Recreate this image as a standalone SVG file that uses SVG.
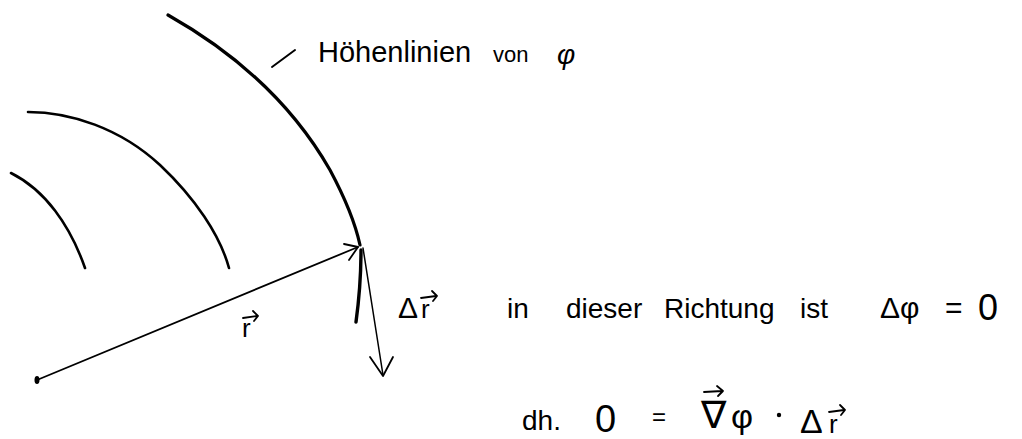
<svg xmlns="http://www.w3.org/2000/svg" width="1022" height="439" viewBox="0 0 1022 439">
<style>
.ln{fill:none;stroke:#000;stroke-linecap:round;stroke-linejoin:round}
.t{font-family:"Liberation Sans","DejaVu Sans",sans-serif;fill:#000}
</style>
<rect width="1022" height="439" fill="#fff"/>
<g id="contours">
<path id="contour-outer" class="ln" stroke-width="3.2" d="M168,15 C230,50 290,100 330,170 C345,198 355,222 360,245"/>
<path id="contour-outer-lower" class="ln" stroke-width="3.4" d="M361,250 C361,275 359,300 356,322"/>
<path id="contour-mid" class="ln" stroke-width="2.6" d="M28,112 C70,112 120,128 160,165 C195,198 220,235 229,268"/>
<path id="contour-inner" class="ln" stroke-width="2.6" d="M11,173 C45,190 70,225 85,268"/>
<path id="leader" class="ln" stroke-width="2" d="M272,67 L295,50"/>
</g>
<g id="connectors">
<path id="vec-r" class="ln" stroke-width="1.8" d="M37,380 L358,247"/>
<path class="ln" stroke-width="1.8" d="M344,244 L358,247 L349,260"/>
<ellipse cx="37" cy="380" rx="2.5" ry="4" fill="#000"/>
<path id="vec-dr" class="ln" stroke-width="1.5" d="M363,248 L383,375"/>
<path class="ln" stroke-width="1.8" d="M370,357 L383,376 L393,357"/>
</g>
<g id="labels">
<text class="t" x="318" y="62" font-size="29">Höhenlinien</text>
<text class="t" x="493" y="62" font-size="22">von</text>
<text class="t" x="557" y="64" font-size="28" font-style="italic">φ</text>
<g id="label-r">
<text class="t" x="242" y="337" font-size="26">r</text>
<path class="ln" stroke-width="1.8" d="M243,318 L257,316 M253,311 L258,316 L254,321"/>
</g>
<g id="label-dr">
<text class="t" x="398" y="318" font-size="30">Δ</text>
<text class="t" x="421" y="318" font-size="26">r</text>
<path class="ln" stroke-width="1.8" d="M421,298 L436,296 M432,291 L437,296 L433,301"/>
</g>
<text class="t" x="507" y="318" font-size="28">in</text>
<text class="t" x="566" y="318" font-size="28">dieser</text>
<text class="t" x="664" y="318" font-size="28">Richtung</text>
<text class="t" x="800" y="318" font-size="28">ist</text>
<text class="t" x="880" y="318" font-size="30">Δφ</text>
<text class="t" x="945" y="318" font-size="30">=</text>
<text class="t" x="978" y="320" font-size="36">0</text>
<text class="t" x="522" y="430" font-size="28">dh.</text>
<text class="t" x="595" y="432" font-size="38">0</text>
<text class="t" x="652" y="425" font-size="24">=</text>
<g id="label-grad">
<text class="t" x="701" y="428" font-size="38">∇</text>
<path class="ln" stroke-width="1.8" d="M704,392 L722,391 M717,386 L723,391 L718,396"/>
<text class="t" x="731" y="428" font-size="34">φ</text>
</g>
<circle cx="779" cy="415" r="2.2" fill="#000"/>
<g id="label-dr2">
<text class="t" x="800" y="433" font-size="34">Δ</text>
<text class="t" x="829" y="433" font-size="26">r</text>
<path class="ln" stroke-width="1.8" d="M829,412 L844,410 M840,405 L845,410 L841,415"/>
</g>
</g>
</svg>
